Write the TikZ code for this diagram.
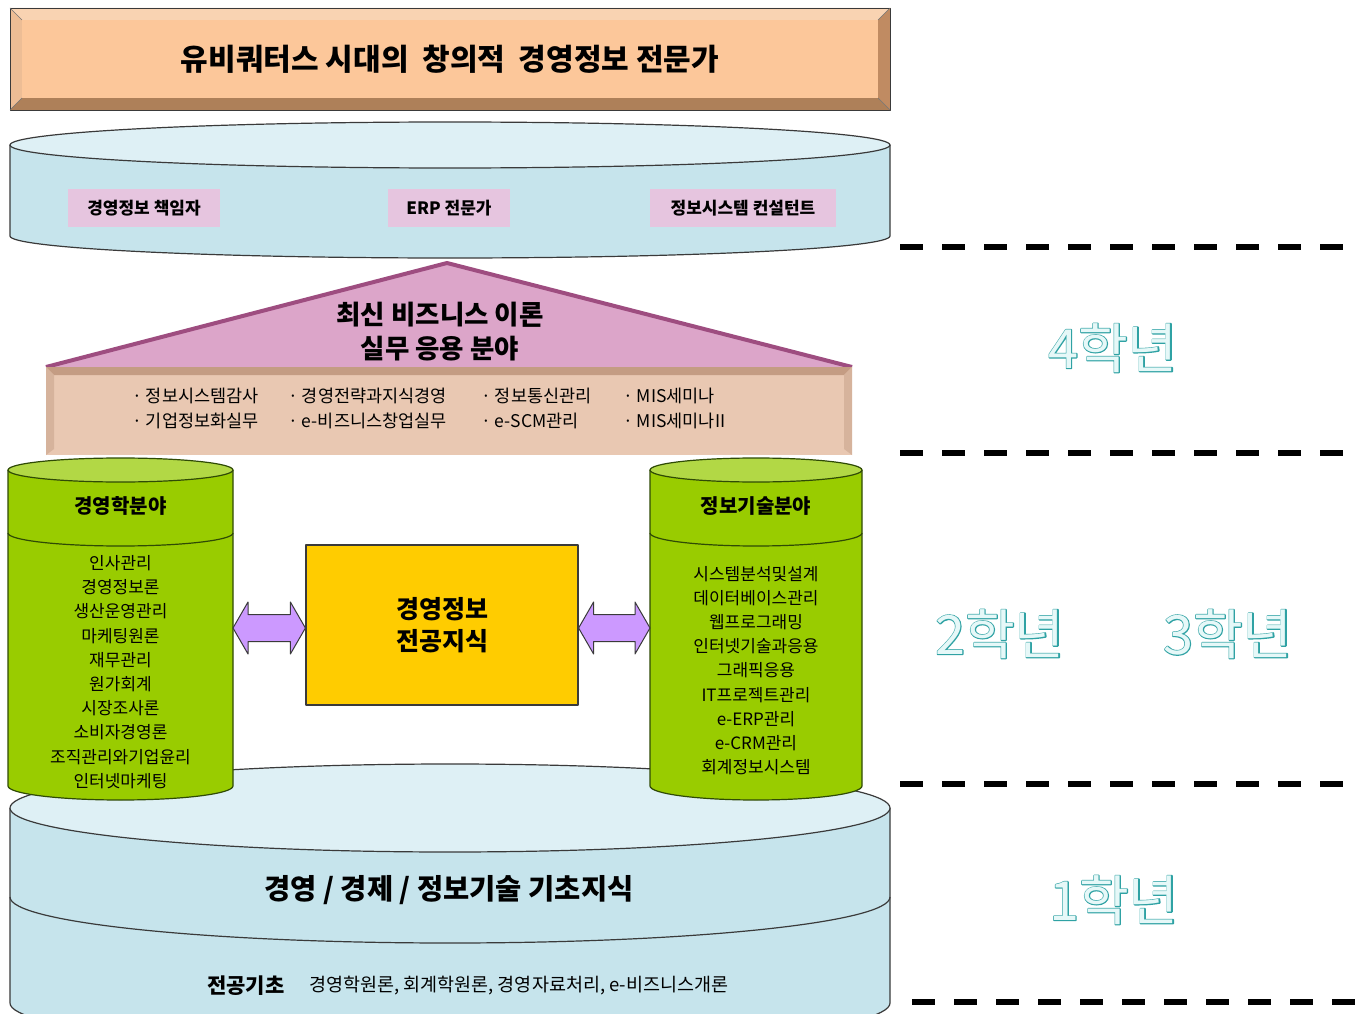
\documentclass[tikz,border=0pt]{standalone}
\usepackage{fontspec}
\setmainfont{Noto Sans CJK KR}
\newfontfamily\heavy{Noto Sans CJK KR Black}
\newfontfamily\yearout{Noto Sans CJK KR}[FakeBold=3.3]
\usetikzlibrary{calc}
\definecolor{faceP}{HTML}{FCC79A}
\definecolor{bevT}{HTML}{F9D3B2}
\definecolor{bevL}{HTML}{EDBD95}
\definecolor{bevR}{HTML}{C08B62}
\definecolor{bevB}{HTML}{AE8059}
\definecolor{diskB}{HTML}{C6E4EC}
\definecolor{diskT}{HTML}{DEF0F5}
\definecolor{pinkL}{HTML}{E6C5DF}
\definecolor{triF}{HTML}{DCA5C9}
\definecolor{triD}{HTML}{9E4D80}
\definecolor{beigeF}{HTML}{E9C8B2}
\definecolor{beigeD}{HTML}{C49C83}
\definecolor{beigeS}{HTML}{D6B39C}
\definecolor{grn}{HTML}{99CC00}
\definecolor{grnT}{HTML}{B2D845}
\definecolor{grnD}{HTML}{2F4A05}
\definecolor{yel}{HTML}{FFCC00}
\definecolor{purp}{HTML}{CC99FF}
\definecolor{tealO}{HTML}{2FA2A4}
\definecolor{tealI}{HTML}{E6F8F8}
\definecolor{edge}{HTML}{3A3A3A}
\tikzset{
  edgeline/.style={draw=edge, line width=1.2pt},
  plabel/.style={fill=pinkL, minimum height=38pt, inner sep=0pt, font=\heavy\fontsize{17}{17}\selectfont},
  beigetxt/.style={anchor=west, inner sep=0pt, font=\fontsize{17.5}{17.5}\selectfont},
  cylhead/.style={font=\heavy\fontsize{20}{20}\selectfont, inner sep=0pt},
  cylitems/.style={align=center, inner sep=0pt, font=\fontsize{17}{24.2}\selectfont},
  ybox/.style={fill=yel, draw=edge, line width=1.2pt, align=center, font=\heavy\fontsize{25}{32}\selectfont},
  arrowst/.style={fill=purp, draw=edge, line width=1pt},
  yeardash/.style={line width=6.5pt, dash pattern=on 23pt off 19pt},
  yearO/.style={text=tealO, inner sep=0pt, font=\yearout\fontsize{54}{54}\selectfont},
  yearI/.style={text=tealI, inner sep=0pt, font=\fontsize{54}{54}\selectfont},
}
\newcommand{\dblarrow}[2]{%
  \filldraw[arrowst] let \p1=(#1), \p2=(#2) in
    (\p1) -- (\x1+15pt,\y1+26pt) -- (\x1+15pt,\y1+13.5pt) -- (\x2-15pt,\y1+13.5pt)
    -- (\x2-15pt,\y1+26pt) -- (\p2) -- (\x2-15pt,\y1-26pt) -- (\x2-15pt,\y1-13.5pt)
    -- (\x1+15pt,\y1-13.5pt) -- (\x1+15pt,\y1-26pt) -- cycle;}
\newcommand{\yearlbl}[3]{%
  \node[yearO] (#1o) at #2 {#3};
  \node[yearI] (#1) at #2 {#3};}
\begin{document}
\begin{tikzpicture}[x=1pt,y=-1pt,line join=round]
\useasboundingbox[fill=white] (0,0) rectangle (1363,1014);

% ---------- title bevel box ----------
\fill[bevT] (10,8) -- (890,8) -- (878,20) -- (22,20) -- cycle;
\fill[bevL] (10,8) -- (22,20) -- (22,98) -- (10,110) -- cycle;
\fill[bevR] (890,8) -- (878,20) -- (878,98) -- (890,110) -- cycle;
\fill[bevB] (10,110) -- (22,98) -- (878,98) -- (890,110) -- cycle;
\node[fill=faceP, minimum width=856pt, minimum height=78pt, inner sep=0pt,
      font=\heavy\fontsize{30}{30}\selectfont] (title) at (450,59) {유비쿼터스 시대의\ \ 창의적\ \ 경영정보 전문가};
\draw[edge, line width=0.8pt] (10,8) rectangle (890,110);
\draw[edge!70, line width=0.4pt] (10,8) -- (22,20) (890,8) -- (878,20) (890,110) -- (878,98) (10,110) -- (22,98);

% ---------- top disk ----------
\fill[diskB] (10,145) -- (10,236) arc[start angle=180,end angle=0,x radius=440,y radius=22] -- (890,145) -- cycle;
\draw[edgeline] (10,145) -- (10,236) arc[start angle=180,end angle=0,x radius=440,y radius=22] -- (890,145);
\filldraw[fill=diskT, edgeline] (450,145) ellipse[x radius=440, y radius=23];
\node[plabel, minimum width=152pt] (lab1) at (144,208) {경영정보 책임자};
\node[plabel, minimum width=122pt] (lab2) at (449,208) {ERP 전문가};
\node[plabel, minimum width=186pt] (lab3) at (743,208) {정보시스템 컨설턴트};

% ---------- triangle ----------
\fill[triF] (46,367) -- (447,263) -- (852,367) -- cycle;
\draw[triD, line width=4pt] (46,367) -- (447,263) -- (852,367);
\node[align=center, inner sep=0pt, font=\heavy\fontsize{26.5}{34}\selectfont] (roof) at (440,332) {최신 비즈니스 이론\\실무 응용 분야};

% ---------- beige beam ----------
\fill[beigeF] (46,367) rectangle (852,455);
\fill[beigeD] (46,367) -- (852,367) -- (844,375) -- (54,375) -- cycle;
\fill[beigeS] (46,367) -- (54,375) -- (54,449) -- (46,455) -- cycle;
\fill[beigeS] (852,367) -- (844,375) -- (844,449) -- (852,455) -- cycle;
\node[beigetxt] (c11) at (132,396) {· 정보시스템감사};
\node[beigetxt] (c12) at (132,421) {· 기업정보화실무};
\node[beigetxt] (c21) at (288,396) {· 경영전략과지식경영};
\node[beigetxt] (c22) at (288,421) {· e-비즈니스창업실무};
\node[beigetxt] (c31) at (481,396) {· 정보통신관리};
\node[beigetxt] (c32) at (481,421) {· e-SCM관리};
\node[beigetxt] (c41) at (623,396) {· MIS세미나};
\node[beigetxt] (c42) at (623,421) {· MIS세미나II};

% ---------- bottom disk ----------
\fill[diskB] (10,808) -- (10,1003) arc[start angle=180,end angle=0,x radius=440,y radius=46] -- (890,808) -- cycle;
\draw[edgeline] (10,808) -- (10,1003) arc[start angle=180,end angle=0,x radius=440,y radius=46] -- (890,808);
\draw[edgeline] (10,897) arc[start angle=180,end angle=0,x radius=440,y radius=46];
\filldraw[fill=diskT, edgeline] (450,808) ellipse[x radius=440, y radius=44];
\node[inner sep=0pt, font=\heavy\fontsize{28.5}{28.5}\selectfont] (base) at (449,890) {경영 / 경제 / 정보기술 기초지식};
\node[anchor=west, inner sep=0pt, font=\heavy\fontsize{21}{21}\selectfont] (major) at (207,986) {전공기초};
\node[anchor=west, inner sep=0pt, font=\fontsize{18.5}{18.5}\selectfont] (basics) at (309,986) {경영학원론, 회계학원론, 경영자료처리, e-비즈니스개론};

% ---------- left cylinder ----------
\fill[grn] (8,470) -- (8,786) arc[start angle=180,end angle=0,x radius=112.5,y radius=14] -- (233,470) -- cycle;
\draw[draw=grnD, line width=1.2pt] (8,470) -- (8,786) arc[start angle=180,end angle=0,x radius=112.5,y radius=14] -- (233,470);
\draw[draw=grnD, line width=1.2pt] (8,533) arc[start angle=180,end angle=0,x radius=112.5,y radius=13];
\filldraw[fill=grnT, draw=grnD, line width=1.2pt] (120.5,470) ellipse[x radius=112.5, y radius=12];
\node[cylhead] (lhead) at (120.5,506) {경영학분야};
\node[cylitems] (litems) at (120.5,672) {인사관리\\경영정보론\\생산운영관리\\마케팅원론\\재무관리\\원가회계\\시장조사론\\소비자경영론\\조직관리와기업윤리\\인터넷마케팅};

% ---------- right cylinder ----------
\fill[grn] (650,470) -- (650,786) arc[start angle=180,end angle=0,x radius=106,y radius=14] -- (862,470) -- cycle;
\draw[draw=grnD, line width=1.2pt] (650,470) -- (650,786) arc[start angle=180,end angle=0,x radius=106,y radius=14] -- (862,470);
\draw[draw=grnD, line width=1.2pt] (650,533) arc[start angle=180,end angle=0,x radius=106,y radius=13];
\filldraw[fill=grnT, draw=grnD, line width=1.2pt] (756,470) ellipse[x radius=106, y radius=12];
\node[cylhead] (rhead) at (756,506) {정보기술분야};
\node[cylitems] (ritems) at (756,670.5) {시스템분석및설계\\데이터베이스관리\\웹프로그래밍\\인터넷기술과응용\\그래픽응용\\IT프로젝트관리\\e-ERP관리\\e-CRM관리\\회계정보시스템};

% ---------- centre box and arrows ----------
\node[ybox, minimum width=272pt, minimum height=160pt] (ctr) at (442,625) {경영정보\\전공지식};
\coordinate (lcylE) at (233,628);
\coordinate (rcylW) at (650,628);
\coordinate (ctrW) at (ctr.west |- lcylE);
\coordinate (ctrE) at (ctr.east |- rcylW);
\dblarrow{lcylE}{ctrW}
\dblarrow{ctrE}{rcylW}

% ---------- year separators ----------
\draw[yeardash] (900,247) -- (1350,247);
\draw[yeardash] (900,453) -- (1350,453);
\draw[yeardash] (900,784) -- (1350,784);
\draw[yeardash] (912,1002) -- (1363,1002);

\yearlbl{y4}{(1113,348)}{4학년}
\yearlbl{y2}{(1000,634)}{2학년}
\yearlbl{y3}{(1228,634)}{3학년}
\yearlbl{y1}{(1114,900)}{1학년}
\end{tikzpicture}
\end{document}
